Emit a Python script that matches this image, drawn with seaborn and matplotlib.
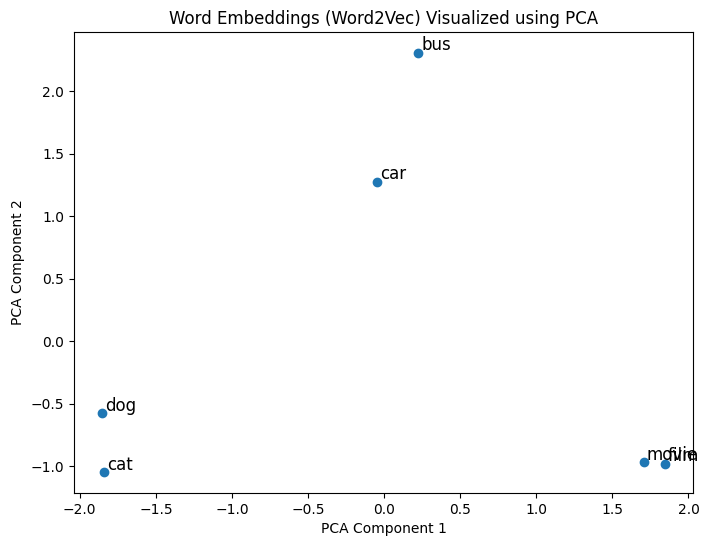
import matplotlib
matplotlib.use("Agg")
import matplotlib.pyplot as plt
import seaborn as sns
import pandas as pd

words = ["dog", "cat", "car", "bus", "movie", "film"]
pc1 = [-1.853, -1.840, -0.045, 0.225, 1.705, 1.845]
pc2 = [-0.578, -1.048, 1.278, 2.308, -0.968, -0.983]

df = pd.DataFrame({"word": words, "pc1": pc1, "pc2": pc2})

fig = plt.figure(figsize=(7.10, 5.47), dpi=100)
ax = fig.add_axes([74/710, 1-493/547, (693-74)/710, (493-32)/547])
sns.scatterplot(data=df, x="pc1", y="pc2", ax=ax, s=36, color="#1f77b4",
                edgecolor="#1f77b4", linewidth=1)
for w, x, y in zip(df["word"], df["pc1"], df["pc2"]):
    ax.text(x + 0.02, y + 0.02, w, fontsize=12)
ax.set_title("Word Embeddings (Word2Vec) Visualized using PCA")
ax.set_xlabel("PCA Component 1")
ax.set_ylabel("PCA Component 2")
fig.savefig("out.png", dpi=100)
